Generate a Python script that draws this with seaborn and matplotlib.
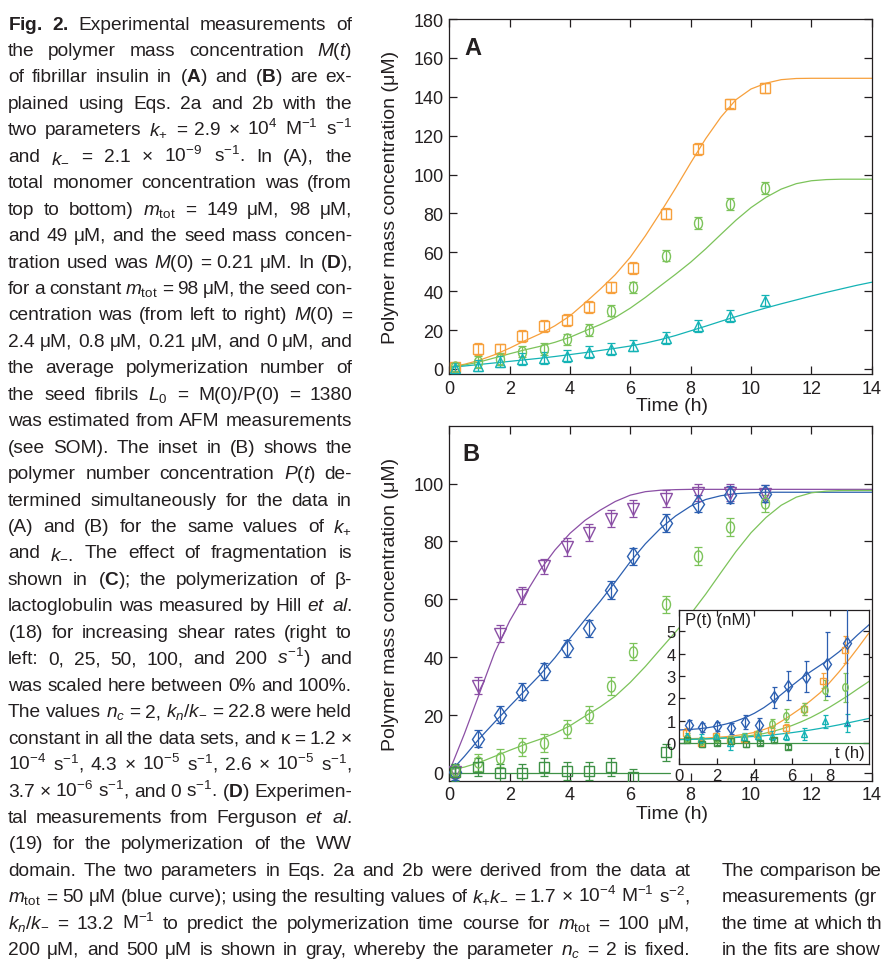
import numpy as np
import pandas as pd
import matplotlib
matplotlib.use("Agg")
import matplotlib.pyplot as plt
import seaborn as sns
from matplotlib import font_manager as fm
from matplotlib.path import Path

# ---------------- data ----------------
t_pts = [0.19, 0.94, 1.68, 2.42, 3.15, 3.89, 4.63, 5.37, 6.10, 7.17, 8.25, 9.30, 10.46]

# Panel A measurements (uM)
a_m149 = [0.9, 10.3, 10.5, 17.0, 22.0, 25.3, 32.0, 41.9, 51.9, 79.9, 113.0, 136.5, 144.6]
a_m149_err = [2.0, 3.0, 2.5, 3.0, 3.0, 3.0, 3.0, 3.0, 3.0, 3.0, 3.0, 2.5, 2.5]
a_m98 = [0.9, 3.6, 5.2, 8.9, 10.3, 15.2, 20.1, 30.0, 41.9, 58.3, 75.0, 85.0, 93.2]
a_m98_err = [2.0, 3.0, 3.0, 3.0, 3.0, 3.0, 3.0, 3.0, 3.0, 3.0, 3.0, 3.0, 3.0]
a_m49 = [0.5, 1.7, 3.8, 5.2, 5.5, 6.5, 8.6, 10.3, 12.0, 15.8, 22.0, 27.1, 35.2]
a_m49_err = [2.5, 3.0, 3.0, 3.0, 3.0, 3.0, 3.0, 3.0, 3.0, 3.0, 3.0, 3.0, 3.0]

# Panel B measurements (uM)
b_seed24 = [0.2, 30.2, 48.1, 61.4, 71.4, 78.1, 83.0, 87.9, 91.3, 94.8, 96.9, 96.9, 96.5]
b_seed24_err = [2.0, 3.0, 3.0, 3.0, 2.5, 3.0, 3.0, 3.0, 3.0, 3.0, 3.0, 3.0, 3.0]
b_seed08 = [0.2, 11.8, 20.1, 28.1, 35.1, 43.1, 50.0, 63.2, 74.9, 86.4, 93.1, 96.2, 96.5]
b_seed08_err = [2.5, 3.0, 3.0, 3.0, 3.0, 3.0, 3.0, 3.0, 3.0, 3.0, 3.0, 3.0, 3.0]
t_seed0 = [0.19, 0.94, 1.68, 2.42, 3.15, 3.89, 4.63, 5.37, 6.10, 7.17]
b_seed0 = [0.2, 2.0, 0.0, 0.0, 2.0, 0.6, 0.6, 2.0, -1.5, 7.1]
b_seed0_err = [3.0, 3.0, 3.0, 3.0, 3.0, 3.0, 3.0, 3.0, 3.0, 3.0]

# model curves (every 0.5 h)
t_fit = [0.0, 0.5, 1.0, 1.5, 2.0, 2.5, 3.0, 3.5, 4.0, 4.5, 5.0, 5.5, 6.0, 6.5, 7.0,
         7.5, 8.0, 8.5, 9.0, 9.5, 10.0, 10.5, 11.0, 11.5, 12.0, 12.5, 13.0, 13.5, 14.0]
fit_m149 = [1.0, 2.4, 4.5, 7.3, 10.7, 14.5, 18.0, 22.2, 27.3, 34.0, 41.0, 48.5, 57.5, 68.5, 80.5,
            93.0, 106.0, 118.5, 129.5, 138.5, 144.0, 147.0, 148.8, 149.4, 149.5, 149.5, 149.5, 149.5, 149.5]
fit_m98 = [1.0, 2.0, 3.6, 5.7, 7.8, 9.8, 11.6, 13.7, 16.3, 19.6, 22.8, 26.5, 31.3, 36.8, 42.8,
           48.7, 54.9, 61.8, 69.2, 76.5, 83.0, 88.3, 92.5, 95.3, 96.8, 97.4, 97.6, 97.6, 97.6]
fit_m49 = [0.8, 1.5, 2.3, 3.1, 3.9, 4.7, 5.5, 6.4, 7.4, 8.4, 9.5, 10.6, 11.8, 13.3, 15.1,
           17.2, 19.6, 22.0, 24.5, 26.9, 29.2, 31.4, 33.5, 35.5, 37.5, 39.4, 41.2, 43.0, 44.6]
fit_seed24 = [0.5, 13.5, 27.5, 41.5, 52.5, 61.5, 70.0, 77.0, 82.8, 87.3, 90.8, 93.8, 96.0, 97.2, 97.7,
              97.9, 98.0, 98.0, 98.0, 98.0, 98.0, 98.0, 98.0, 98.0, 98.0, 98.0, 98.0, 98.0, 98.0]
fit_seed08 = [0.0, 5.7, 11.9, 17.5, 23.0, 28.4, 33.8, 39.8, 46.5, 53.0, 59.3, 66.0, 73.0, 79.2, 84.5,
              88.8, 92.2, 94.5, 95.8, 96.5, 96.8, 97.0, 97.0, 97.0, 97.0, 97.0, 97.0, 97.0, 97.0]
t_fit_seed0 = [0.0, 7.3]
fit_seed0 = [0.0, 0.0]

# inset: polymer number concentration P(t) (nM)
in_t_blue = [0.50, 1.21, 1.99, 2.76, 3.52, 4.27, 5.03, 5.80, 6.72, 7.84, 8.94]
in_blue = [0.81, 0.70, 0.75, 0.66, 0.93, 0.82, 2.04, 2.57, 2.97, 3.54, 4.48]
in_blue_err = [0.20, 0.20, 0.20, 0.25, 0.30, 0.30, 0.48, 0.65, 0.70, 1.45, 3.68]
in_t_orange = [0.37, 1.17, 1.97, 2.72, 3.43, 4.14, 4.90, 5.69, 6.63, 7.66, 8.82]
in_orange = [0.45, 0.00, 0.30, 0.15, 0.18, 0.40, 0.58, 0.66, 1.52, 2.79, 4.18]
in_orange_err = [0.20, 0.15, 0.15, 0.15, 0.15, 0.15, 0.20, 0.20, 0.25, 0.35, 0.60]
in_t_green = [0.41, 1.17, 1.97, 2.72, 3.47, 4.18, 4.94, 5.69, 6.63, 7.75, 8.82]
in_green = [0.22, 0.10, 0.20, 0.15, 0.25, 0.40, 0.85, 1.22, 1.52, 2.39, 2.49]
in_green_err = [0.15, 0.15, 0.15, 0.15, 0.15, 0.15, 0.20, 0.30, 0.25, 0.45, 0.65]
in_t_cyan = [0.41, 1.17, 1.97, 2.72, 3.47, 4.18, 4.94, 5.69, 6.63, 7.75, 8.91]
in_cyan = [0.30, 0.18, 0.30, 0.00, 0.25, 0.33, 0.33, 0.33, 0.40, 0.96, 0.90]
in_cyan_err = [0.15, 0.20, 0.15, 0.30, 0.20, 0.20, 0.20, 0.20, 0.25, 0.30, 0.40]
in_t_dk = [0.41, 1.21, 2.00, 2.76, 3.54, 4.28, 5.03, 5.80]
in_dk = [0.13, -0.07, 0.00, 0.10, -0.07, 0.00, 0.13, -0.19]
in_dk_err = [0.10, 0.10, 0.10, 0.10, 0.10, 0.10, 0.10, 0.10]

in_t_fit = [0.0, 0.5, 1.0, 1.5, 2.0, 2.5, 3.0, 3.5, 4.0, 4.5, 5.0, 5.5, 6.0, 6.5, 7.0,
            7.5, 8.0, 8.5, 9.0, 9.5, 10.0, 10.1]
in_fit_blue = [0.58, 0.60, 0.63, 0.68, 0.75, 0.85, 0.97, 1.13, 1.33, 1.58, 1.88, 2.22, 2.57, 2.90,
               3.20, 3.48, 3.76, 4.08, 4.45, 4.85, 5.22, 5.30]
in_fit_orange = [0.18, 0.19, 0.20, 0.22, 0.25, 0.28, 0.33, 0.39, 0.47, 0.60, 0.75, 1.00, 1.28, 1.57,
                 1.90, 2.25, 2.70, 3.18, 3.70, 4.25, 4.82, 4.93]
in_fit_green = [0.15, 0.16, 0.17, 0.18, 0.20, 0.23, 0.26, 0.30, 0.35, 0.42, 0.52, 0.64, 0.78, 0.95,
                1.14, 1.36, 1.60, 1.86, 2.13, 2.42, 2.70, 2.76]
in_fit_cyan = [0.15, 0.16, 0.17, 0.185, 0.20, 0.22, 0.24, 0.265, 0.29, 0.32, 0.36, 0.41, 0.46, 0.52,
               0.58, 0.65, 0.73, 0.81, 0.90, 0.99, 1.08, 1.10]
in_t_fit_dk = [0.0, 10.1]
in_fit_dk = [0.0, 0.0]

xticks_main = [0, 2, 4, 6, 8, 10, 12, 14]
yticks_a = [0, 20, 40, 60, 80, 100, 120, 140, 160, 180]
yticks_b = [0, 20, 40, 60, 80, 100]
xticks_in = [0, 2, 4, 6, 8]
yticks_in = [0, 1, 2, 3, 4, 5]

# ---------------- caption text ----------------
caption_lines = [
    r"$\mathbf{Fig.}$ $\mathbf{2.}$ Experimental measurements of",
    r"the polymer mass concentration $M(t)$",
    r"of fibrillar insulin in $(\mathbf{A})$ and $(\mathbf{B})$ are ex-",
    r"plained using Eqs. 2a and 2b with the",
    r"two parameters $k_{+}$ = 2.9 × 10$^{4}$ M$^{-1}$ s$^{-1}$",
    r"and $k_{-}$ = 2.1 × 10$^{-9}$ s$^{-1}$. In (A), the",
    r"total monomer concentration was (from",
    r"top to bottom) $m_{\mathrm{tot}}$ = 149 μM, 98 μM,",
    r"and 49 μM, and the seed mass concen-",
    r"tration used was $M(0)$ = 0.21 μM. In $(\mathbf{D})$,",
    r"for a constant $m_{\mathrm{tot}}$ = 98 μM, the seed con-",
    r"centration was (from left to right) $M(0)$ =",
    r"2.4 μM, 0.8 μM, 0.21 μM, and 0 μM, and",
    r"the average polymerization number of",
    r"the seed fibrils $L_{0}$ = M(0)/P(0) = 1380",
    r"was estimated from AFM measurements",
    r"(see SOM). The inset in (B) shows the",
    r"polymer number concentration $P(t)$ de-",
    r"termined simultaneously for the data in",
    r"(A) and (B) for the same values of $k_{+}$",
    r"and $k_{-}$. The effect of fragmentation is",
    r"shown in $(\mathbf{C})$; the polymerization of β-",
    r"lactoglobulin was measured by Hill $et$ $al.$",
    r"($\mathit{18}$) for increasing shear rates (right to",
    r"left: 0, 25, 50, 100, and 200 $s^{-1}$) and",
    r"was scaled here between 0% and 100%.",
    r"The values $n_{c}$ = 2, $k_{n}/k_{-}$ = 22.8 were held",
    r"constant in all the data sets, and κ = 1.2 ×",
    r"10$^{-4}$ s$^{-1}$, 4.3 × 10$^{-5}$ s$^{-1}$, 2.6 × 10$^{-5}$ s$^{-1}$,",
    r"3.7 × 10$^{-6}$ s$^{-1}$, and 0 s$^{-1}$. $(\mathbf{D})$ Experimen-",
    r"tal measurements from Ferguson $et$ $al.$",
    r"($\mathit{19}$) for the polymerization of the WW",
]
wide_lines = [
    r"domain. The two parameters in Eqs. 2a and 2b were derived from the data at",
    r"$m_{\mathrm{tot}}$ = 50 μM (blue curve); using the resulting values of $k_{+}k_{-}$ = 1.7 × 10$^{-4}$ M$^{-1}$ s$^{-2}$,",
    r"$k_{n}/k_{-}$ = 13.2 M$^{-1}$ to predict the polymerization time course for $m_{\mathrm{tot}}$ = 100 μM,",
    r"200 μM, and 500 μM is shown in gray, whereby the parameter $n_{c}$ = 2 is fixed.",
]
right_lines = ["The comparison be", "measurements (gr", "the time at which th", "in the fits are show"]

# ---------------- style ----------------
sns.set_theme(style="ticks")
avail = {f.name for f in fm.fontManager.ttflist}
CHART = "Liberation Sans" if "Liberation Sans" in avail else "DejaVu Sans"
if "Liberation Sans Narrow" in avail:
    BODY, BODY_FS = "Liberation Sans Narrow", 14.3
else:
    BODY, BODY_FS = CHART, 13.8
plt.rcParams["font.family"] = [CHART, "DejaVu Sans"]
plt.rcParams["mathtext.fontset"] = "custom"
plt.rcParams["mathtext.rm"] = BODY
plt.rcParams["mathtext.it"] = BODY + ":italic"
plt.rcParams["mathtext.bf"] = BODY + ":bold"
plt.rcParams["mathtext.sf"] = BODY
plt.rcParams["axes.unicode_minus"] = True

INK = "#231f20"
C_OR = "#f7a03c"
C_GR = "#7cc35a"
C_CY = "#14b3b5"
C_PU = "#8b4fa5"
C_BL = "#2c5fb0"
C_DG = "#3e9146"

W, H = 883, 962
fig = plt.figure(figsize=(W / 100, H / 100), dpi=100)
fig.patch.set_facecolor("white")

circ = Path.unit_circle()
ELL = Path(circ.vertices * np.array([0.72, 1.0]), circ.codes)


def style_axes(ax, fs, length, pad):
    for s in ax.spines.values():
        s.set_linewidth(0.9)
        s.set_color(INK)
    ax.tick_params(direction="in", top=True, right=True, length=length, width=0.9,
                   labelsize=fs, colors=INK, pad=pad)
    ax.grid(False)


def curve(ax, x, y, c, lw=0.9):
    df = pd.DataFrame({"t": x, "v": y})
    sns.lineplot(data=df, x="t", y="v", ax=ax, color=c, linewidth=lw, legend=False, sort=False)


def points(ax, x, y, e, c, marker, ms, cap=2.6):
    ax.errorbar(x, y, yerr=e, fmt="none", ecolor=c, elinewidth=0.9, capsize=cap, capthick=0.9, zorder=3)
    ax.plot(x, y, linestyle="none", marker=marker, ms=ms, mfc="none", mec=c, mew=1.0, zorder=4)


# ---------------- panel A ----------------
axA = fig.add_axes([449.3 / W, 1 - 375 / H, 422.4 / W, 355 / H])
curve(axA, t_fit, fit_m149, C_OR)
curve(axA, t_fit, fit_m98, C_GR)
curve(axA, t_fit, fit_m49, C_CY)
points(axA, t_pts, a_m149, a_m149_err, C_OR, "s", 7.0)
points(axA, t_pts, a_m98, a_m98_err, C_GR, ELL, 8.0)
points(axA, t_pts, a_m49, a_m49_err, C_CY, "^", 7.5)
axA.set_xlim(0, 14)
axA.set_ylim(-2.6, 180)
axA.set_xticks(xticks_main)
axA.set_yticks(yticks_a)
style_axes(axA, 13, 5.5, 4)
axA.set_xlabel("Time (h)", fontsize=14, color=INK)
axA.set_ylabel("Polymer mass concentration (μM)", fontsize=14, color=INK)
axA.xaxis.set_label_coords(0.527, -0.064)
axA.yaxis.set_label_coords(-0.119, 0.5)
axA.text(0.035, 0.953, "A", transform=axA.transAxes, fontsize=17, fontweight="bold",
         color=INK, va="top", ha="left")

# ---------------- panel B ----------------
axB = fig.add_axes([449.3 / W, 1 - 781.7 / H, 422.4 / W, 355 / H])
curve(axB, t_fit, fit_seed24, C_PU)
curve(axB, t_fit, fit_seed08, C_BL)
curve(axB, t_fit, fit_m98, C_GR)
curve(axB, t_fit_seed0, fit_seed0, C_DG)
points(axB, t_pts, b_seed24, b_seed24_err, C_PU, "v", 8.0)
points(axB, t_pts, b_seed08, b_seed08_err, C_BL, "d", 9.5)
points(axB, t_pts, a_m98, a_m98_err, C_GR, ELL, 8.0)
points(axB, t_seed0, b_seed0, b_seed0_err, C_DG, "s", 7.0)
axB.set_xlim(0, 14)
axB.set_ylim(-2.7, 120)
axB.set_xticks(xticks_main)
axB.set_yticks(yticks_b)
style_axes(axB, 13, 5.5, 4)
axB.set_xlabel("Time (h)", fontsize=14, color=INK)
axB.set_ylabel("Polymer mass concentration (μM)", fontsize=14, color=INK)
axB.xaxis.set_label_coords(0.527, -0.068)
axB.yaxis.set_label_coords(-0.119, 0.5)
axB.text(0.032, 0.954, "B", transform=axB.transAxes, fontsize=17, fontweight="bold",
         color=INK, va="top", ha="left")

# ---------------- inset ----------------
axI = fig.add_axes([679.3 / W, 1 - 765.3 / H, 189.7 / W, 154.3 / H])
axI.set_facecolor("white")
curve(axI, in_t_fit, in_fit_blue, C_BL, 0.9)
curve(axI, in_t_fit, in_fit_orange, C_OR, 0.9)
curve(axI, in_t_fit, in_fit_green, C_GR, 0.9)
curve(axI, in_t_fit, in_fit_cyan, C_CY, 0.9)
curve(axI, in_t_fit_dk, in_fit_dk, C_DG, 0.9)
points(axI, in_t_orange, in_orange, in_orange_err, C_OR, "s", 5.0, 1.8)
points(axI, in_t_green, in_green, in_green_err, C_GR, ELL, 5.5, 1.8)
points(axI, in_t_cyan, in_cyan, in_cyan_err, C_CY, "^", 5.0, 1.8)
points(axI, in_t_dk, in_dk, in_dk_err, C_DG, "s", 4.5, 1.8)
points(axI, in_t_blue, in_blue, in_blue_err, C_BL, "d", 6.5, 1.8)
axI.set_xlim(0, 10.1)
axI.set_ylim(-0.96, 5.96)
axI.set_xticks(xticks_in)
axI.set_yticks(yticks_in)
style_axes(axI, 12, 4, 2.5)
axI.set_xlabel("")
axI.set_ylabel("")
axI.text(0.03, 0.985, "P(t) (nM)", transform=axI.transAxes, fontsize=12, color=INK, va="top", ha="left")
axI.text(0.975, 0.03, "t (h)", transform=axI.transAxes, fontsize=12, color=INK, va="bottom", ha="right")

# ---------------- caption ----------------
R = fig.canvas.get_renderer()
BASE0, STEP = 29.5, 26.45


def place_line(s, x0, x1, yb, justify=True, min_gap=3.3):
    toks = s.split(" ")
    fs = BODY_FS
    for attempt in range(14):
        objs = [fig.text(0, 0, t, fontsize=fs, family=[BODY, "DejaVu Sans"], color=INK,
                         ha="left", va="baseline", transform=fig.transFigure) for t in toks]
        ws = [o.get_window_extent(R).width for o in objs]
        if justify:
            gap = (x1 - x0 - sum(ws)) / max(len(toks) - 1, 1)
            ok = gap >= min_gap
        else:
            gap = 0.26 * fs * 100 / 72
            ok = x0 + sum(ws) + gap * (len(toks) - 1) <= x1
        if ok or attempt == 13:
            break
        for o in objs:
            o.remove()
        fs *= 0.985
    x = x0
    for o, w in zip(objs, ws):
        o.set_position((x / W, 1 - yb / H))
        x += w + gap


for i, s in enumerate(caption_lines):
    place_line(s, 8, 352, BASE0 + STEP * i)
n0 = len(caption_lines)
for j, s in enumerate(wide_lines):
    place_line(s, 8, 690, BASE0 + STEP * (n0 + j))
for j, s in enumerate(right_lines):
    place_line(s, 722, 884, BASE0 + STEP * (n0 + j), justify=False)

fig.savefig("out.png", dpi=100)
